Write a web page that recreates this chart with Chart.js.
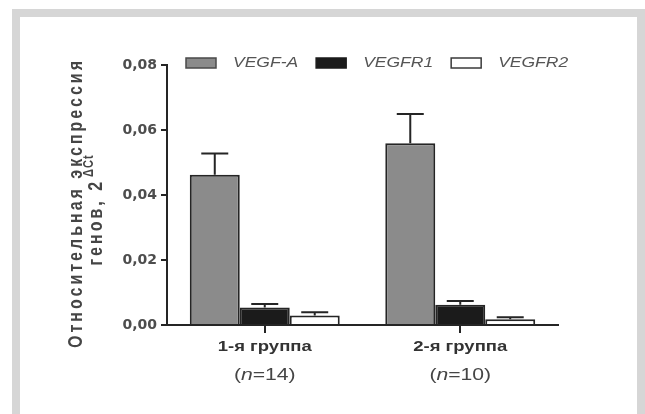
<!DOCTYPE html>
<html>
<head>
<meta charset="utf-8">
<script src="https://cdn.jsdelivr.net/npm/chart.js@4/dist/chart.umd.min.js"></script>
<style>
  html, body { margin: 0; padding: 0; background: #ffffff; }
  #frame { position: absolute; left: 12px; top: 9px; width: 617px; height: 420px;
           border: 8px solid #d6d6d6; border-bottom: none; background: #ffffff; }
  #c { position: absolute; left: 0; top: 0; }
</style>
</head>
<body>
<div id="frame"></div>
<canvas id="c" width="645" height="414"></canvas>
<script>
// ---- data ----
const categories = ['1-я группа', '2-я группа'];
const groupSizes = ['14', '10'];
const seriesNames = ['VEGF-A', 'VEGFR1', 'VEGFR2'];
const vegfA = [0.0462, 0.0559];
const vegfAErr = [0.0066, 0.0090];
const vegfr1 = [0.0054, 0.0062];
const vegfr1Err = [0.0011, 0.0012];
const vegfr2 = [0.0029, 0.0018];
const vegfr2Err = [0.0010, 0.0006];
const yTickLabels = ['0,00', '0,02', '0,04', '0,06', '0,08'];
const yTitleLine1 = 'Относительная экспрессия';
const yTitleLine2 = 'генов, 2';
const yTitleSup = 'ΔCt';

const AXIS = '#252525';
const TEXT = '#454545';

const errorBars = {
  id: 'errorBars',
  afterDatasetsDraw(chart) {
    const ctx = chart.ctx;
    const y = chart.scales.y;
    ctx.save();
    ctx.strokeStyle = AXIS;
    ctx.lineWidth = 2;
    chart.data.datasets.forEach((ds, di) => {
      const meta = chart.getDatasetMeta(di);
      meta.data.forEach((bar, i) => {
        const top = y.getPixelForValue(ds.data[i] + ds.errors[i]);
        const half = bar.width * 0.27;
        ctx.beginPath();
        ctx.moveTo(bar.x, bar.y);
        ctx.lineTo(bar.x, top);
        ctx.moveTo(bar.x - half, top);
        ctx.lineTo(bar.x + half, top);
        ctx.stroke();
      });
    });
    ctx.restore();
  }
};

const texts = {
  id: 'texts',
  afterDraw(chart) {
    const ctx = chart.ctx;
    const xs = chart.scales.x;
    const area = chart.chartArea;
    const stretch = 1.32;
    ctx.save();
    // x category labels
    categories.forEach((cat, i) => {
      const x = xs.getPixelForValue(i);
      ctx.save();
      ctx.translate(x, area.bottom + 22);
      ctx.scale(stretch, 1);
      ctx.font = 'bold 14px "Liberation Sans", Arial, sans-serif';
      ctx.fillStyle = '#333333';
      ctx.textAlign = 'center';
      ctx.textBaseline = 'middle';
      ctx.fillText(cat, 0, 0);
      ctx.restore();

      ctx.save();
      ctx.translate(x, area.bottom + 51);
      ctx.scale(stretch, 1);
      const fN = '16px "Liberation Sans", Arial, sans-serif';
      const fI = 'italic 16px "Liberation Sans", Arial, sans-serif';
      const parts = [['(', fN], ['n', fI], ['=' + groupSizes[i] + ')', fN]];
      let total = 0;
      parts.forEach(p => { ctx.font = p[1]; total += ctx.measureText(p[0]).width; });
      let cx = -total / 2;
      ctx.fillStyle = TEXT;
      ctx.textAlign = 'left';
      ctx.textBaseline = 'middle';
      parts.forEach(p => { ctx.font = p[1]; ctx.fillText(p[0], cx, 0); cx += ctx.measureText(p[0]).width; });
      ctx.restore();
    });

    // legend
    let lx = area.left + 19;
    const ly = area.top - 7;
    chart.data.datasets.forEach(ds => {
      ctx.fillStyle = ds.backgroundColor;
      ctx.strokeStyle = ds.legendBorder;
      ctx.lineWidth = 1.5;
      ctx.fillRect(lx, ly, 30, 10);
      ctx.strokeRect(lx, ly, 30, 10);
      lx += 30 + 17;
      ctx.save();
      ctx.translate(lx, ly + 5);
      ctx.scale(1.25, 1);
      ctx.font = 'italic 14px "Liberation Sans", Arial, sans-serif';
      ctx.fillStyle = '#555555';
      ctx.textAlign = 'left';
      ctx.textBaseline = 'middle';
      ctx.fillText(ds.label, 0, 0);
      const w = ctx.measureText(ds.label).width * 1.25;
      ctx.restore();
      lx += w + 18;
    });

    // y title
    ctx.save();
    ctx.translate(82, 203);
    ctx.rotate(-Math.PI / 2);
    ctx.scale(1, 1.3);
    ctx.font = 'bold 16px "Liberation Sans", Arial, sans-serif';
    ctx.letterSpacing = '3px';
    ctx.fillStyle = TEXT;
    ctx.textAlign = 'center';
    ctx.textBaseline = 'alphabetic';
    ctx.fillText(yTitleLine1, 0, 0);
    ctx.restore();

    ctx.save();
    ctx.translate(102, 210);
    ctx.rotate(-Math.PI / 2);
    ctx.scale(1, 1.3);
    ctx.letterSpacing = '3px';
    ctx.font = 'bold 16px "Liberation Sans", Arial, sans-serif';
    const w1 = ctx.measureText(yTitleLine2).width;
    ctx.font = 'bold 11px "Liberation Sans", Arial, sans-serif';
    ctx.letterSpacing = '1px';
    const w2 = ctx.measureText(yTitleSup).width;
    const start = -(w1 + w2 + 2) / 2;
    ctx.fillStyle = TEXT;
    ctx.textAlign = 'left';
    ctx.textBaseline = 'alphabetic';
    ctx.letterSpacing = '3px';
    ctx.font = 'bold 16px "Liberation Sans", Arial, sans-serif';
    ctx.fillText(yTitleLine2, start, 0);
    ctx.letterSpacing = '1px';
    ctx.font = 'bold 11px "Liberation Sans", Arial, sans-serif';
    ctx.fillText(yTitleSup, start + w1 + 2, -7);
    ctx.restore();

    ctx.restore();
  }
};

new Chart(document.getElementById('c'), {
  type: 'bar',
  data: {
    labels: categories,
    datasets: [
      { label: seriesNames[0], data: vegfA, errors: vegfAErr, backgroundColor: '#8b8b8b',
        borderColor: AXIS, legendBorder: '#4a4a4a', borderWidth: 2 },
      { label: seriesNames[1], data: vegfr1, errors: vegfr1Err, backgroundColor: '#1b1b1b',
        borderColor: AXIS, legendBorder: '#1b1b1b', borderWidth: 2 },
      { label: seriesNames[2], data: vegfr2, errors: vegfr2Err, backgroundColor: '#ffffff',
        borderColor: AXIS, legendBorder: '#3a3a3a', borderWidth: 2 }
    ]
  },
  options: {
    responsive: false,
    animation: false,
    devicePixelRatio: 1,
    layout: { padding: { left: 0, right: 87, top: 65, bottom: 0 } },
    datasets: { bar: { categoryPercentage: 0.767, barPercentage: 1.0 } },
    plugins: { legend: { display: false }, tooltip: { enabled: false } },
    scales: {
      x: {
        offset: true,
        grid: { display: true, offset: false, drawOnChartArea: false, drawTicks: true,
                tickLength: 8, tickColor: AXIS, tickWidth: 2, color: AXIS, lineWidth: 2 },
        border: { display: true, color: AXIS, width: 2 },
        ticks: { display: false },
        afterFit(scale) { scale.height = 89; }
      },
      y: {
        min: 0, max: 0.08,
        ticks: { stepSize: 0.02, padding: 4, color: '#4d4d4d',
                 font: { family: '"DejaVu Sans", sans-serif', weight: 'bold', size: 14 },
                 callback: (v, i) => yTickLabels[i] },
        grid: { display: true, drawOnChartArea: false, drawTicks: true, tickLength: 6,
                tickColor: AXIS, tickWidth: 2, color: AXIS, lineWidth: 2 },
        border: { display: true, color: AXIS, width: 2 },
        afterFit(scale) { scale.width = 167; }
      }
    }
  },
  plugins: [errorBars, texts]
});
</script>
</body>
</html>
